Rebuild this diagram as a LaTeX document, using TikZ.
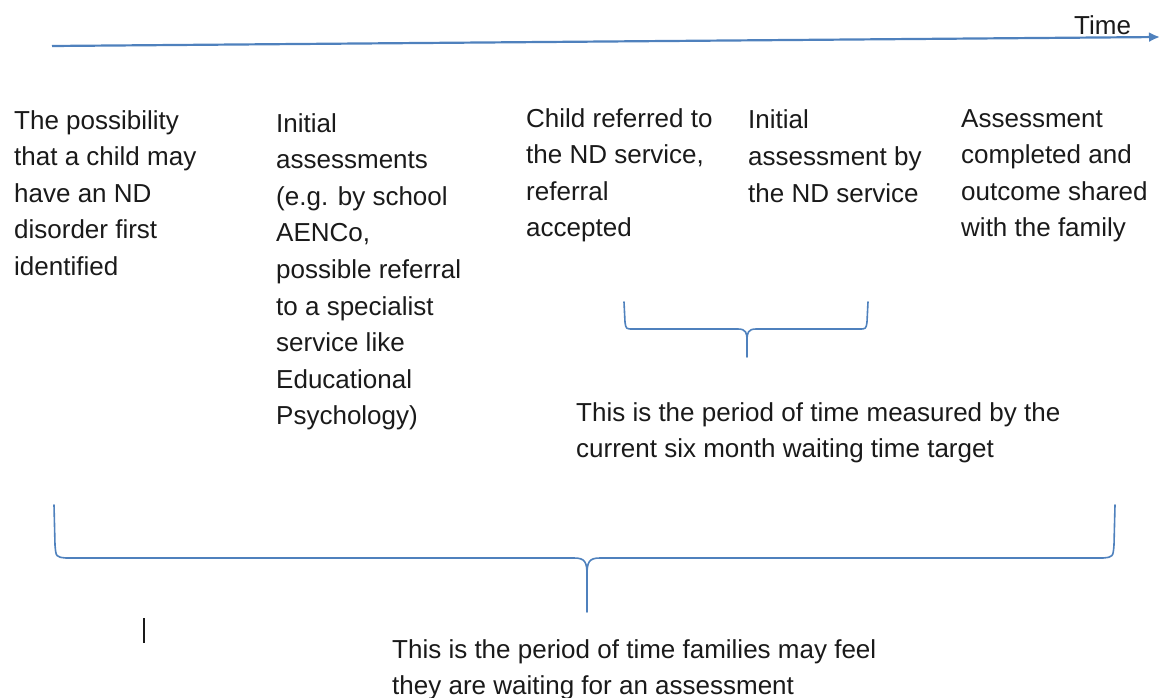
\documentclass[tikz,border=0pt]{standalone}
\usepackage{fontspec}
\setmainfont{Liberation Sans}
\usetikzlibrary{arrows.meta}
\definecolor{accent}{HTML}{4F81BD}
\definecolor{ink}{HTML}{1A1A1A}
\tikzset{
  lbl/.style={anchor=base west, inner sep=0pt, align=left, text=ink,
    font=\fontsize{26}{36.6}\selectfont},
  bracket/.style={draw=accent, line width=1.6pt, line cap=round, line join=round},
  timeline/.style={draw=accent, line width=2.2pt, -{Latex[length=11pt,width=10pt]}}
}
\begin{document}
\begin{tikzpicture}[x=1pt,y=-1pt]
\useasboundingbox (0,0) rectangle (1160,698);
% time axis
\coordinate (tstart) at (52,46);
\coordinate (tend) at (1160,37);
\draw[timeline] (tstart) -- (tend);
\node[lbl] (time) at (1074,35) {Time};
% stage texts (anchored at the baseline of their last line)
\node[lbl] (s1) at (14,275.4) {The possibility\\that a child may\\have an ND\\disorder first\\identified};
\node[lbl] (s2) at (276,424.8) {Initial\\assessments\\(e.g. by school\\AENCo,\\possible referral\\to a specialist\\service like\\Educational\\Psychology)};
\node[lbl] (s3) at (526,236.8) {Child referred to\\the ND service,\\referral\\accepted};
\node[lbl] (s4) at (748,202.2) {Initial\\assessment  by\\the ND service};
\node[lbl] (s5) at (961,236.8) {Assessment\\completed and\\outcome shared\\with the family};
% small bracket
\coordinate (sbL) at (624,302);
\coordinate (sbR) at (868,302);
\coordinate (sbT) at (747,357);
\draw[bracket] (sbL) -- (625,322) .. controls (626,329) .. (633,329) -- (738,329)
  .. controls (746,329) and (747,333) .. (747,340) -- (sbT);
\draw[bracket] (sbR) -- (867,322) .. controls (866,329) .. (859,329) -- (756,329)
  .. controls (748,329) and (747,333) .. (747,340);
\node[lbl] (n1) at (576,457.6) {This is the period of time measured by the\\current six month waiting time target};
% big bracket
\coordinate (bbL) at (54,505);
\coordinate (bbR) at (1115,505);
\coordinate (bbT) at (587,612);
\draw[bracket] (bbL) -- (55,545) .. controls (56,557) .. (66,558) -- (574,558)
  .. controls (585,558) and (587,562) .. (587,575) -- (bbT);
\draw[bracket] (bbR) -- (1114,545) .. controls (1113,557) .. (1103,558) -- (600,558)
  .. controls (589,558) and (587,562) .. (587,575);
\node[lbl] (n2) at (392,694.6) {This is the period of time families may feel\\they are waiting for an assessment};
% cursor mark
\coordinate (cA) at (144,618);
\coordinate (cB) at (144,643);
\draw[ink, line width=1.3pt] (cA) -- (cB);
\end{tikzpicture}
\end{document}
